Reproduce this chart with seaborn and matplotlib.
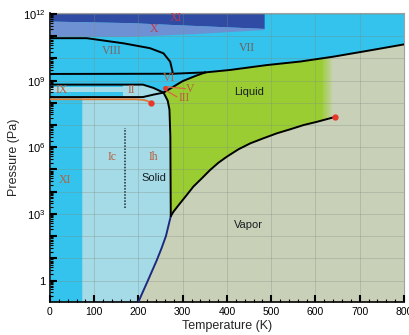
import numpy as np
import matplotlib
matplotlib.use("Agg")
import matplotlib.pyplot as plt
import seaborn as sns
from matplotlib.patches import Polygon
from matplotlib.colors import LinearSegmentedColormap
from matplotlib.ticker import LogLocator, FuncFormatter, MultipleLocator, NullFormatter

# phase boundaries: T in K, log10(P / Pa)
sub_t = [200, 210, 219, 230, 241, 252, 262, 273]
sub_logp = [-0.95, -0.5, -0.1, 0.4, 0.9, 1.45, 2.0, 2.9]

vap_t = [273, 279, 294, 309, 324, 343, 362, 381, 400, 426, 453, 483, 513, 543, 573, 604, 645]
vap_logp = [2.9, 3.1, 3.48, 3.85, 4.23, 4.6, 4.98, 5.31, 5.58, 5.91, 6.18, 6.41, 6.63,
            6.81, 7.0, 7.15, 7.37]

melt_t = [273, 272, 270, 266, 256.5]
melt_logp = [2.9, 6.5, 7.7, 8.1, 8.46]

vi_t = [256.5, 270, 300, 330, 351]
vi_logp = [8.46, 8.62, 8.98, 9.22, 9.37]

vii_t = [351, 407, 490, 566, 641, 720, 800]
vii_logp = [9.37, 9.48, 9.70, 9.86, 10.08, 10.35, 10.63]

vi_low_t = [0, 277, 351]
vi_low_logp = [9.30, 9.31, 9.37]

viii_t = [0, 83, 166, 226, 256.5, 271.7, 277, 277]
viii_logp = [10.91, 10.91, 10.68, 10.46, 10.23, 9.85, 9.40, 9.31]

ii_top_t = [0, 210, 234, 256.5]
ii_top_logp = [8.82, 8.82, 8.67, 8.46]
ii_bot_t = [0, 210, 234, 256.5]
ii_bot_logp = [8.26, 8.26, 8.37, 8.46]

orange_t = [0, 195, 212, 222, 228]
orange_logp = [8.16, 8.16, 8.13, 8.07, 8.0]

ix_t = [0, 165]
ix_logp = [8.51, 8.73]

band_t = [0, 180, 330, 484]
xi_low_logp = [11.68, 11.61, 11.48, 11.35]
x_low_logp = [11.0, 10.99, 11.12, 11.3]

xi_edge_t = 73        # XI / Ih boundary
dot_t = [228, 645]
dot_logp = [8.0, 7.37]

ylo, yhi = -0.95, 12.03

BRIGHT = "#33c3ec"
PALE = "#a5dbe6"
GREEN = "#9acd32"
VAPOR = "#c8d1b8"
DARK = "#2f4ba3"
MID = "#6d91d2"

sns.set_style("ticks")
plt.rcParams["font.family"] = ["Liberation Sans", "DejaVu Sans"]
plt.rcParams["mathtext.default"] = "regular"

P = lambda a: 10 ** np.asarray(a, dtype=float)

fig = plt.figure(figsize=(4.09, 3.35), dpi=100)
ax = fig.add_axes([0.1222, 0.0994, 0.8655, 0.8609])
ax.set_facecolor(VAPOR)

# all ice (bright blue)
ice = np.vstack([
    [[0, P(ylo)]],
    np.column_stack([sub_t, P(sub_logp)]),
    np.column_stack([melt_t[1:], P(melt_logp[1:])]),
    np.column_stack([vi_t[1:], P(vi_logp[1:])]),
    np.column_stack([vii_t[1:], P(vii_logp[1:])]),
    [[800, P(yhi)], [0, P(yhi)]],
])
ax.add_patch(Polygon(ice, closed=True, fc=BRIGHT, ec="none", zorder=1))

# Ih / II pale region
pale = np.vstack([
    [[xi_edge_t, P(ylo)]],
    np.column_stack([sub_t, P(sub_logp)]),
    np.column_stack([melt_t[1:], P(melt_logp[1:])]),
    np.column_stack([ii_top_t[::-1][1:3], P(ii_top_logp[::-1][1:3])]),
    [[ix_t[1], P(ii_top_logp[0])], [ix_t[1], P(ii_bot_logp[0])],
     [xi_edge_t, P(ii_bot_logp[0])]],
])
ax.add_patch(Polygon(pale, closed=True, fc=PALE, ec="none", zorder=1.1))
ax.fill_between(ix_t, P(ix_logp[0]), P(ix_logp[1]), color=PALE, lw=0, zorder=1.1)

# top bands (X and XI)
ax.fill_between(band_t, P(xi_low_logp), P(yhi), color=DARK, lw=0, zorder=1.2)
ax.fill_between(band_t, P(x_low_logp), P(xi_low_logp), color=MID, lw=0, zorder=1.2)

# liquid, fading into the supercritical region
liq = np.vstack([
    np.column_stack([melt_t, P(melt_logp)]),
    np.column_stack([vi_t[1:], P(vi_logp[1:])]),
    np.column_stack([vii_t[1:], P(vii_logp[1:])]),
    [[800, P(vap_logp[-1])]],
    np.column_stack([vap_t[::-1], P(vap_logp[::-1])]),
])
liq_patch = Polygon(liq, closed=True, fc=GREEN, ec="none", zorder=1.3)
ax.add_patch(liq_patch)
gx = np.linspace(600, 800, 101)
gy = P(np.linspace(7, 11, 3))
gc = np.tile(gx[:-1], (2, 1))
cmap = LinearSegmentedColormap.from_list("fade", [GREEN, VAPOR])
mesh = ax.pcolormesh(gx, gy, gc, cmap=cmap, vmin=612, vmax=640, zorder=1.4, shading="flat")
mesh.set_clip_path(liq_patch)

# grid
ax.grid(True, which="major", color="#7f8c80", alpha=0.33, lw=0.7, zorder=1.6)
ax.set_axisbelow(False)

# boundary lines
kw = dict(ax=ax, sort=False, estimator=None, legend=False, zorder=3)
sns.lineplot(x=sub_t, y=P(sub_logp), color="#1c2a80", lw=1.4, **kw)
for t, lp in [(vap_t, vap_logp), (melt_t, melt_logp), (vi_t, vi_logp),
              (vii_t, vii_logp), (vi_low_t, vi_low_logp), (viii_t, viii_logp),
              (ii_top_t, ii_top_logp), (ii_bot_t, ii_bot_logp)]:
    sns.lineplot(x=t, y=P(lp), color="black", lw=1.4, **kw)
sns.lineplot(x=orange_t, y=P(orange_logp), color="#e07a35", lw=1.3, **kw)
ax.plot(dot_t, P(dot_logp), "o", color="#e8362a", ms=3.5, zorder=4)

# dotted Ic/Ih divider
ax.plot([170, 170], P([3.26, 6.86]), color="#1a2a30", lw=1.1, ls=(0, (1, 1)), zorder=3)

# leader lines for V and III
ax.plot([260, 306], P([8.73, 8.64]), color="#d8663a", lw=0.9, zorder=3.5)
ax.plot([260, 287], P([8.58, 8.27]), color="#d8663a", lw=0.9, zorder=3.5)
ax.plot([260], P([8.66]), "o", color="#e8362a", ms=2.5, zorder=4)

serif = ["Liberation Serif", "DejaVu Serif"]
brown = "#b5603f"
roman = [("XI", 285, 11.82, "#c0394f"), ("X", 234, 11.31, "#c0394f"),
         ("VIII", 140, 10.35, "#7d6464"), ("VII", 445, 10.46, "#6f5f60"),
         ("VI", 269, 9.12, brown), ("IX", 26, 8.58, brown),
         ("II", 185, 8.58, brown), ("Ic", 140, 5.58, brown),
         ("Ih", 234, 5.58, brown), ("XI", 34, 4.53, brown)]
for s, t, lp, c in roman:
    ax.text(t, P(lp), s, family=serif, fontsize=8.5, color=c, ha="center", va="center", zorder=5)
ax.text(308, P(8.62), "V", family=serif, fontsize=8.5, color=brown, ha="left", va="center", zorder=5)
ax.text(290, P(8.2), "III", family=serif, fontsize=8.5, color=brown, ha="left", va="center", zorder=5)

for s, t, lp in [("Liquid", 449, 8.5), ("Vapor", 449, 2.5), ("Solid", 234, 4.6)]:
    ax.text(t, P(lp), s, fontsize=8, color="#1a1f22", ha="center", va="center", zorder=5)

ax.set_yscale("log")
ax.set_xlim(0, 800)
ax.set_ylim(P(ylo), P(yhi))

ax.xaxis.set_major_locator(MultipleLocator(100))
ax.xaxis.set_minor_locator(MultipleLocator(20))
ax.yaxis.set_major_locator(LogLocator(base=10, numticks=30))
ax.yaxis.set_minor_locator(LogLocator(base=10, subs=np.arange(2, 10), numticks=30))
ax.yaxis.set_minor_formatter(NullFormatter())


def ylab(v, pos):
    n = int(round(np.log10(v)))
    if n % 3:
        return ""
    return "1" if n == 0 else "$10^{%d}$" % n


ax.yaxis.set_major_formatter(FuncFormatter(ylab))
ax.tick_params(which="major", direction="in", length=5, width=1.5, colors="black",
               labelsize=8, pad=3)
ax.tick_params(which="minor", direction="in", length=2.5, width=0.8, colors="black")
ax.tick_params(axis="x", labelsize=7.5, pad=4)

for side in ["left", "bottom"]:
    ax.spines[side].set_color("black")
    ax.spines[side].set_linewidth(1.2)
for side in ["top", "right"]:
    ax.spines[side].set_color("#a0a0a0")
    ax.spines[side].set_linewidth(0.8)

ax.set_xlabel("Temperature (K)", fontsize=9, labelpad=2)
ax.set_ylabel("Pressure (Pa)", fontsize=9, labelpad=2)

fig.savefig("out.png", dpi=100)
